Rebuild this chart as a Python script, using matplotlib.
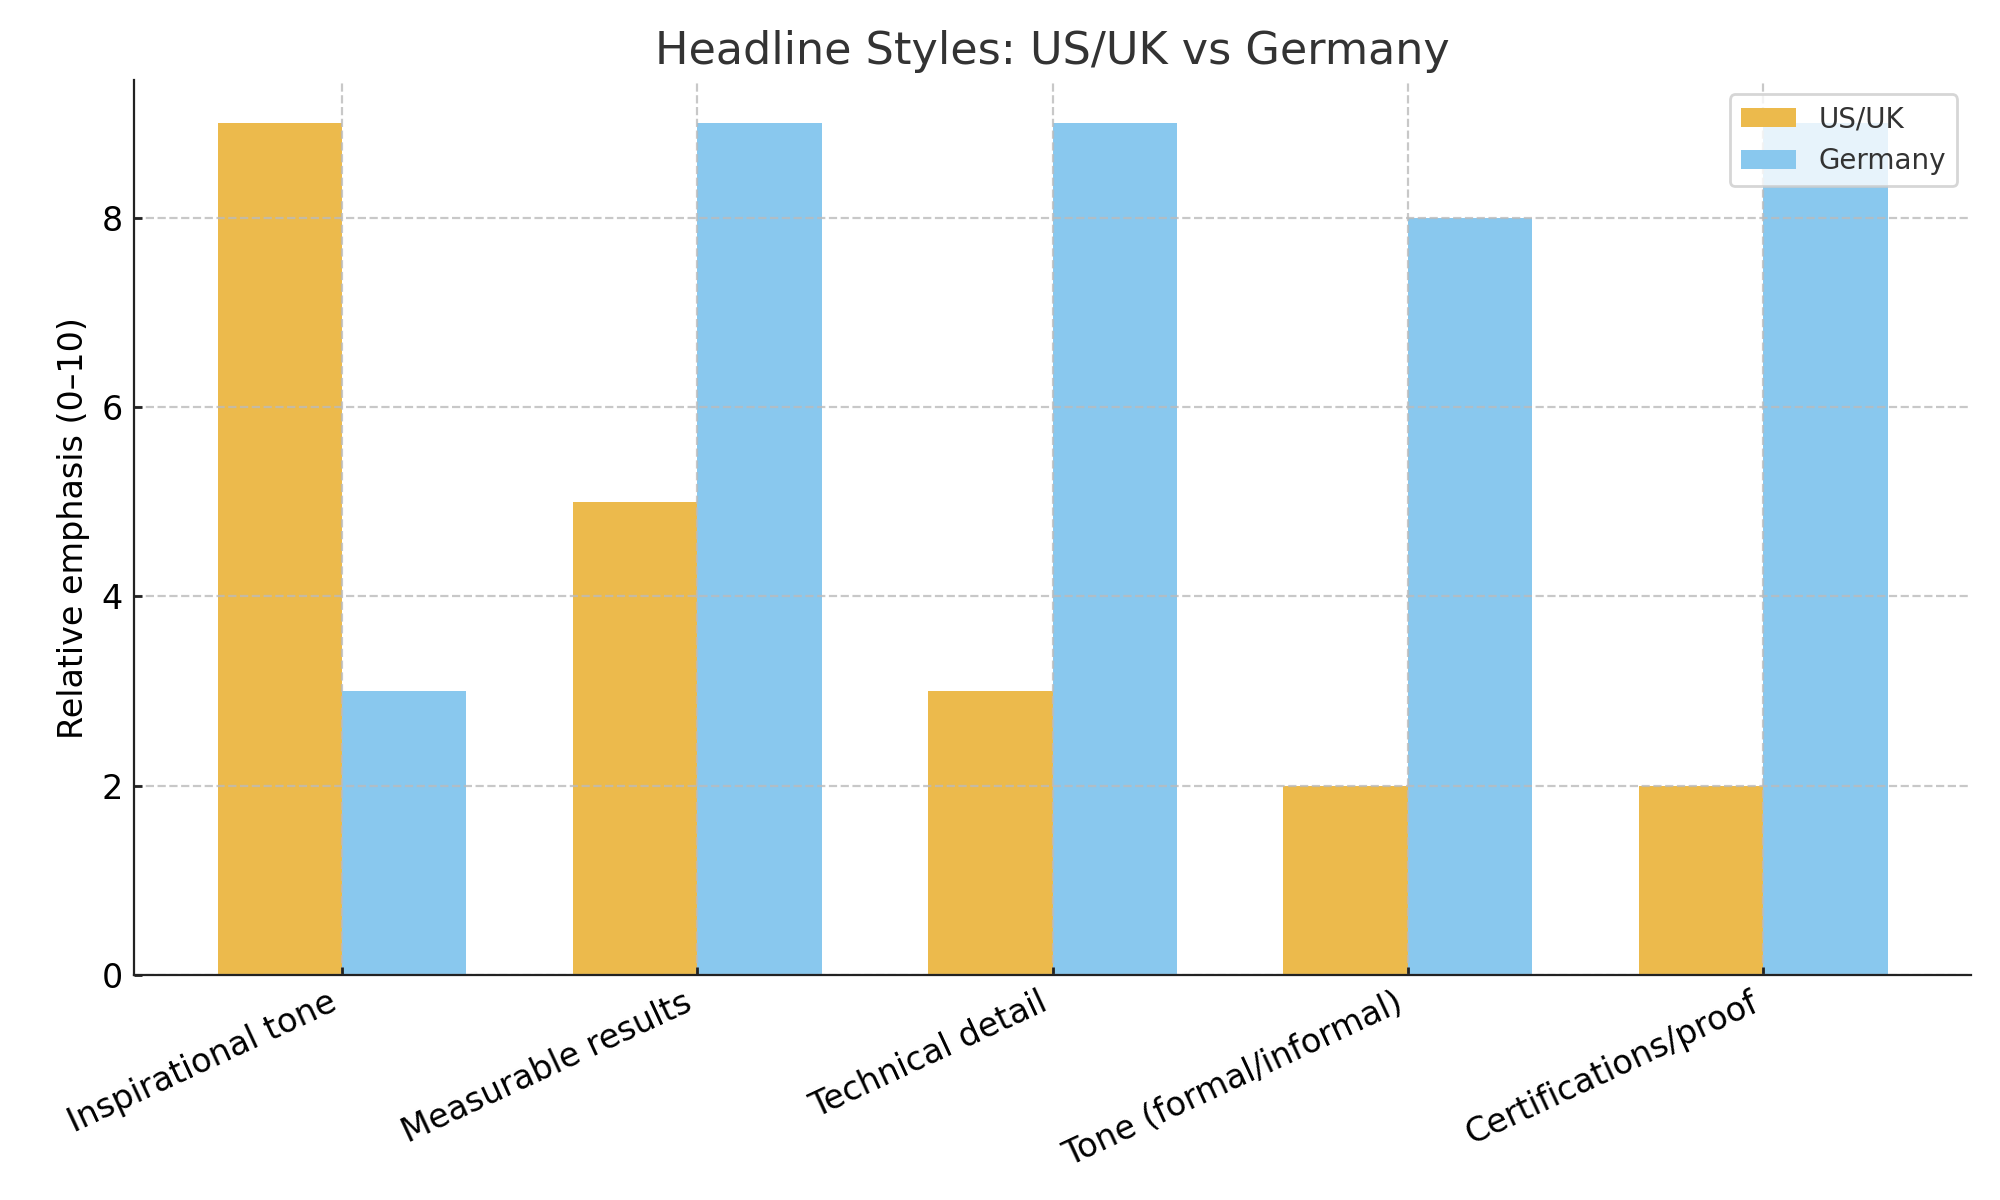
import matplotlib.pyplot as plt
import numpy as np

CATEGORIES = ["Inspirational tone", "Measurable results", "Technical detail",
              "Tone (formal/informal)", "Certifications/proof"]
US_UK   = [9, 5, 3, 2, 2]
GERMANY = [3, 9, 9, 8, 9]

COL_US = "#ECBA4C"
COL_DE = "#89C8EE"

fig, ax = plt.subplots(figsize=(10, 6), dpi=200)
x = np.arange(len(CATEGORIES))
w = 0.35

ax.bar(x - w / 2, US_UK, w, color=COL_US, label="US/UK")
ax.bar(x + w / 2, GERMANY, w, color=COL_DE, label="Germany")

ax.set_xticks(x)
ax.set_xticklabels(CATEGORIES, rotation=25, ha="right", fontsize=12)
ax.tick_params(axis="both", direction="in", length=3, width=1, color="#222222", pad=4)
ax.tick_params(axis="y", labelsize=12)
ax.set_ylabel("Relative emphasis (0–10)", fontsize=12)
ax.set_title("Headline Styles: US/UK vs Germany", fontsize=16, color="#333333")

ax.grid(True, linestyle="--", color="#bbbbbb", linewidth=0.8, alpha=0.8)
ax.set_axisbelow(False)
for side in ("top", "right"):
    ax.spines[side].set_visible(False)
for side in ("left", "bottom"):
    ax.spines[side].set_color("#222222")
    ax.spines[side].set_zorder(3)

leg = ax.legend(loc="upper right", fontsize=10, framealpha=0.8, edgecolor="#cccccc")
for t in leg.get_texts():
    t.set_color("#333333")

plt.subplots_adjust(left=0.067, right=0.9855, top=0.933, bottom=0.1875)
plt.savefig("out.png", dpi=200)
